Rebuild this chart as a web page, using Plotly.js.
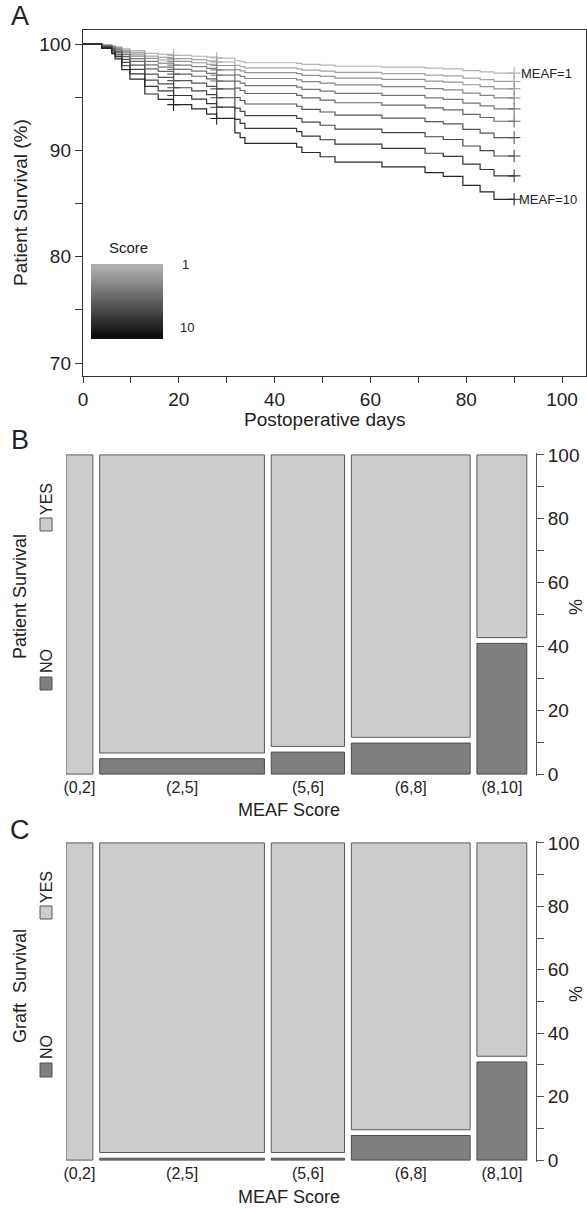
<!DOCTYPE html>
<html>
<head>
<meta charset="utf-8">
<script src="https://cdn.plot.ly/plotly-3.0.1.min.js"></script>
<style>html,body{margin:0;padding:0;background:#fff;}#chart{width:587px;height:1209px;}</style>
</head>
<body>
<div id="chart"></div>
<script>
// ---------- Panel A: predicted survival curves by MEAF score ----------
const kmDays = [0,3.9,6.0,6.7,8.1,9.8,12.9,15.7,18.9,22.7,25.8,27.9,31.7,32.8,33.8,44.6,45.7,49.5,52.6,62.4,71.4,75.2,79.3,82.9,85.8,90];
const meaf1  = [100,99.92,99.83,99.74,99.55,99.38,99.12,99.02,98.93,98.85,98.76,98.68,98.43,98.35,98.24,98.18,98.08,98.01,97.91,97.83,97.73,97.66,97.50,97.39,97.26,97.26];
const meaf2  = [100,99.90,99.78,99.66,99.42,99.21,98.87,98.75,98.63,98.53,98.41,98.31,97.99,97.88,97.75,97.66,97.54,97.45,97.33,97.22,97.08,97.00,96.80,96.65,96.48,96.48];
const meaf3  = [100,99.88,99.74,99.60,99.31,99.05,98.65,98.50,98.36,98.24,98.10,97.98,97.60,97.47,97.31,97.21,97.06,96.95,96.80,96.67,96.52,96.41,96.17,96.00,95.79,95.79];
const meaf4  = [100,99.86,99.69,99.51,99.17,98.86,98.37,98.20,98.02,97.88,97.71,97.57,97.10,96.95,96.76,96.63,96.46,96.32,96.15,95.99,95.80,95.68,95.39,95.18,94.93,94.93];
const meaf5  = [100,99.83,99.62,99.42,99.00,98.62,98.04,97.83,97.62,97.45,97.24,97.07,96.51,96.32,96.09,95.95,95.74,95.57,95.36,95.17,94.94,94.80,94.44,94.19,93.90,93.90];
const meaf6  = [100,99.80,99.55,99.30,98.81,98.36,97.66,97.42,97.17,96.97,96.72,96.52,95.85,95.63,95.35,95.18,94.93,94.73,94.48,94.26,93.99,93.81,93.39,93.09,92.74,92.74];
const meaf7  = [100,99.76,99.46,99.16,98.55,98.01,97.17,96.86,96.56,96.32,96.02,95.78,94.97,94.69,94.36,94.15,93.85,93.61,93.31,93.04,92.70,92.49,91.98,91.62,91.20,91.20];
const meaf8  = [100,99.71,99.35,98.99,98.27,97.62,96.61,96.25,95.89,95.60,95.24,94.95,93.98,93.66,93.26,93.01,92.65,92.36,92.00,91.67,91.28,91.02,90.41,89.98,89.47,89.47];
const meaf9  = [100,99.66,99.24,98.81,97.96,97.20,96.01,95.59,95.16,94.82,94.40,94.06,92.91,92.53,92.06,91.77,91.34,91.00,90.58,90.19,89.73,89.43,88.71,88.20,87.60,87.60];
const meaf10 = [100,99.6,99.1,98.6,97.6,96.7,95.3,94.8,94.3,93.9,93.4,93.0,91.65,91.2,90.65,90.3,89.8,89.4,88.9,88.45,87.9,87.55,86.7,86.1,85.4,85.4];
const censorDays = [18.9, 27.9, 90];
const scoreLevels = [1,2,3,4,5,6,7,8,9,10];

// ---------- Panels B and C: mosaic plots ----------
const meafGroups = ['(0,2]','(2,5]','(5,6]','(6,8]','(8,10]'];
const groupShare = [6.2, 38.0, 16.9, 27.4, 11.5];      // % of patients in each MEAF group (column width)
const patientDeathPct = [0, 4.9, 7.0, 9.9, 41.7];      // Patient survival = NO
const graftLossPct    = [0, 0.6, 0.6, 7.9, 31.5];      // Graft survival = NO

// ---------- helpers ----------
const W = 587, H = 1209;
const fx = x => x / W, fy = y => 1 - y / H;
const FONT = 'Liberation Sans, Arial, Helvetica, sans-serif';
const curves = [meaf1,meaf2,meaf3,meaf4,meaf5,meaf6,meaf7,meaf8,meaf9,meaf10];
const grayFor = k => { const g = Math.round(180 - (k - 1) * (180 - 38) / 9); return `rgb(${g},${g},${g})`; };

const traces = [];
curves.forEach((vals, i) => {
  const col = grayFor(i + 1);
  traces.push({type:'scatter', mode:'lines', x:kmDays, y:vals, line:{shape:'hv', color:col, width:1.2},
    xaxis:'x', yaxis:'y', hoverinfo:'skip'});
  const cy = censorDays.map(d => vals[kmDays.indexOf(d)]);
  traces.push({type:'scatter', mode:'markers', x:censorDays, y:cy,
    marker:{symbol:'cross-thin', size:9, color:col, line:{color:col, width:1.1}},
    xaxis:'x', yaxis:'y', hoverinfo:'skip'});
});

// gradient legend
traces.push({type:'heatmap', z:scoreLevels.map(s => [s, s]), x:[0,1], y:scoreLevels,
  colorscale:[[0,'#adadad'],[1,'#0e0e0e']], zsmooth:'best', showscale:false,
  xaxis:'x4', yaxis:'y4', hoverinfo:'skip'});

const GAP_X = 1.57, GAP_Y = 1.8;
function mosaic(noPct, xa, ya) {
  const centers = [], widths = [];
  let start = 0;
  groupShare.forEach(w => { centers.push(start + w / 2); widths.push(w); start += w + GAP_X; });
  const yesBase = [], yesH = [], noX = [], noW = [], noH = [];
  noPct.forEach((p, i) => {
    const noHeight = p * (100 - GAP_Y) / 100;
    const base = p > 0 ? noHeight + GAP_Y : 0;
    yesBase.push(base); yesH.push(100 - base);
    if (p > 0) { noX.push(centers[i]); noW.push(widths[i]); noH.push(noHeight); }
  });
  traces.push({type:'bar', x:centers, y:yesH, base:yesBase, width:widths,
    marker:{color:'#cccccc', line:{color:'#5a5a5a', width:1}}, xaxis:xa, yaxis:ya, hoverinfo:'skip'});
  traces.push({type:'bar', x:noX, y:noH, base:noX.map(() => 0), width:noW,
    marker:{color:'#7f7f7f', line:{color:'#4a4a4a', width:1}}, xaxis:xa, yaxis:ya, hoverinfo:'skip'});
  return centers;
}
const centersB = mosaic(patientDeathPct, 'x2', 'y2');
const centersC = mosaic(graftLossPct, 'x3', 'y3');

const axCommon = {showgrid:false, zeroline:false, linecolor:'#333', tickcolor:'#333', fixedrange:true};
function mosaicY(top, bottom) {
  return Object.assign({}, axCommon, {domain:[fy(bottom), fy(top)], range:[-0.6, 100.6], side:'right',
    tickvals:[0,10,20,30,40,50,60,70,80,90,100], ticktext:['0','','20','','40','','60','','80','','100'],
    ticks:'outside', ticklen:7, showline:true, linewidth:1, linecolor:'#555', tickcolor:'#555',
    tickfont:{size:19, color:'#222'}});
}
function mosaicX(anchor, centers) {
  return Object.assign({}, axCommon, {domain:[fx(66), fx(536)], range:[0, 108.4], anchor:anchor,
    tickvals:centers, ticktext:meafGroups, ticks:'', showline:false, tickfont:{size:16, color:'#222'}});
}

const ann = (text, x, y, size, extra) => Object.assign({text:text, x:fx(x), y:fy(y), xref:'paper', yref:'paper',
  showarrow:false, font:{size:size, family:FONT, color:'#222'}, xanchor:'center', yanchor:'middle'}, extra || {});

const annotations = [
  ann('A', 20, 16, 27),
  ann('Patient Survival (%)', 20, 203, 19, {textangle:-90}),
  ann('Postoperative days', 325, 420, 19),
  {text:'MEAF=1', x:90, y:meaf1[meaf1.length-1], xref:'x', yref:'y', xanchor:'left', yanchor:'middle', xshift:5,
    showarrow:false, font:{size:13, family:FONT, color:'#222'}},
  {text:'MEAF=10', x:90, y:meaf10[meaf10.length-1], xref:'x', yref:'y', xanchor:'left', yanchor:'middle', xshift:3,
    showarrow:false, font:{size:13, family:FONT, color:'#222'}},
  ann('Score', 128, 247, 15),
  ann(String(scoreLevels[0]), 185, 265, 13),
  ann(String(scoreLevels[scoreLevels.length-1]), 187, 327, 13),

  ann('B', 20, 440, 27),
  ann('Patient Survival', 20, 597, 18, {textangle:-90}),
  ann('YES', 46, 499, 16, {textangle:-90}),
  ann('NO', 46, 661, 16, {textangle:-90}),
  ann('MEAF Score', 289, 810, 18),
  ann('%', 576, 607, 18, {textangle:-90}),

  ann('C', 20, 830, 27),
  ann('Graft  Survival', 20, 986, 18, {textangle:-90}),
  ann('YES', 46, 887, 16, {textangle:-90}),
  ann('NO', 46, 1047, 16, {textangle:-90}),
  ann('MEAF Score', 289, 1197, 18),
  ann('%', 576, 994, 18, {textangle:-90})
];

const sq = (x0, y0, x1, y1, fill) => ({type:'rect', xref:'paper', yref:'paper', x0:fx(x0), x1:fx(x1), y0:fy(y1), y1:fy(y0),
  fillcolor:fill, line:{color:'#555', width:1}});
const shapes = [
  sq(40, 518, 52, 531, '#cccccc'), sq(40, 677, 52, 690, '#7f7f7f'),
  sq(40, 906, 52, 919, '#cccccc'), sq(40, 1063, 52, 1077, '#7f7f7f')
];

const layout = {
  width:W, height:H, margin:{l:0, r:0, t:0, b:0, autoexpand:false},
  paper_bgcolor:'#ffffff', plot_bgcolor:'rgba(0,0,0,0)', showlegend:false, barmode:'overlay',
  font:{family:FONT, color:'#222', size:19},
  xaxis: Object.assign({}, axCommon, {domain:[fx(83), fx(586)], range:[0,105], anchor:'y',
    tickvals:[0,10,20,30,40,50,60,70,80,90,100], ticktext:['0','','20','','40','','60','','80','','100'],
    ticks:'outside', ticklen:6, showline:true, mirror:true, linewidth:1.2, tickfont:{size:19, color:'#222'}}),
  yaxis: Object.assign({}, axCommon, {domain:[fy(376), fy(30)], range:[68.78,101.32], anchor:'x',
    tickvals:[70,75,80,85,90,95,100], ticktext:['70','','80','','90','','100'],
    ticks:'outside', ticklen:7, showline:true, mirror:true, linewidth:1.2, tickfont:{size:19, color:'#222'}}),
  xaxis2: mosaicX('y2', centersB),
  yaxis2: Object.assign(mosaicY(453, 776), {anchor:'x2'}),
  xaxis3: mosaicX('y3', centersC),
  yaxis3: Object.assign(mosaicY(841, 1162), {anchor:'x3'}),
  xaxis4: {domain:[fx(91), fx(163)], visible:false, anchor:'y4', fixedrange:true},
  yaxis4: {domain:[fy(339), fy(264)], visible:false, anchor:'x4', autorange:'reversed', fixedrange:true},
  annotations: annotations,
  shapes: shapes
};

Plotly.newPlot('chart', traces, layout, {staticPlot:true, displayModeBar:false});
</script>
</body>
</html>
